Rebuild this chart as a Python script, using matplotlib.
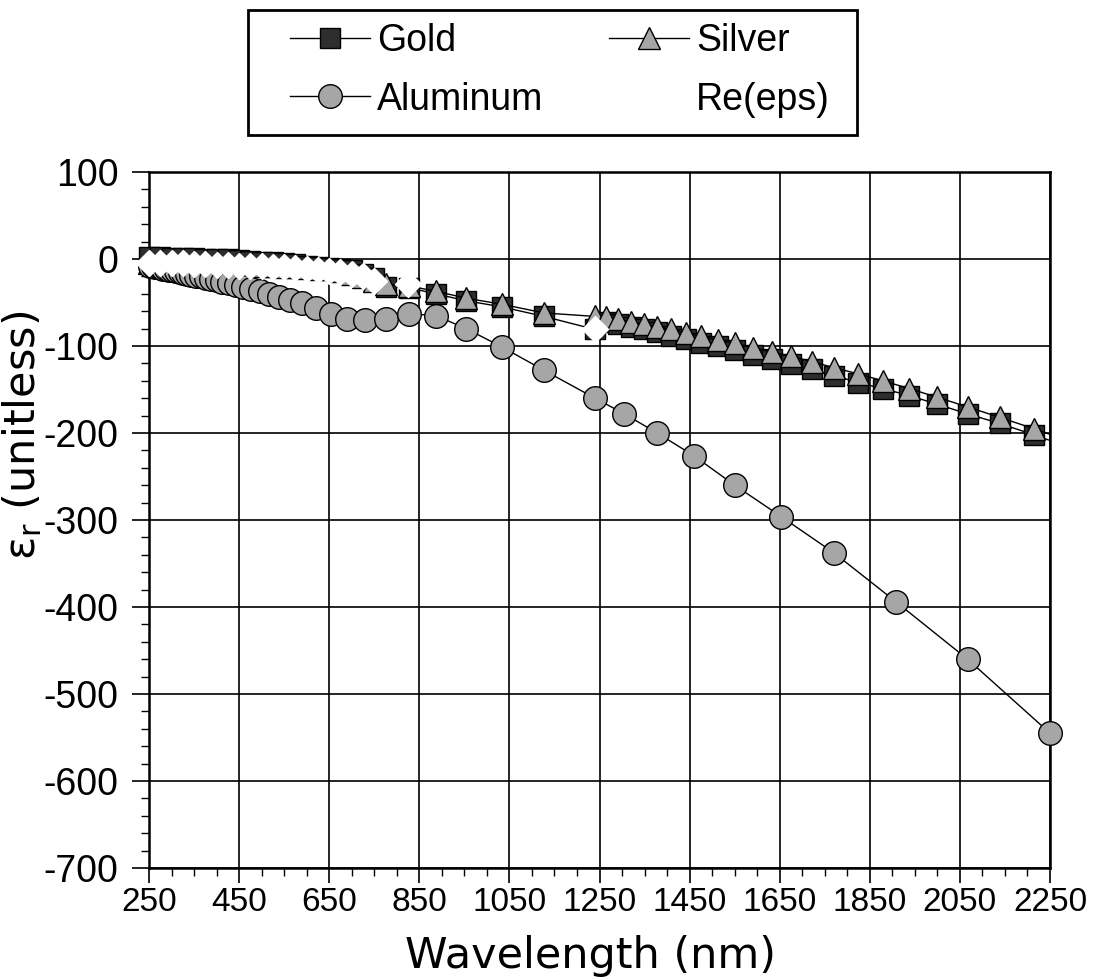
import numpy as np
import matplotlib
matplotlib.use("Agg")
import matplotlib.pyplot as plt
from matplotlib.lines import Line2D
from matplotlib.patches import Rectangle

plt.rcParams['font.family'] = ['Liberation Sans', 'DejaVu Sans']
plt.rcParams['axes.unicode_minus'] = False
plt.rcParams['mathtext.fontset'] = 'dejavusans'

# wavelength (nm) and Re(eps)
gold_wl = [250, 275, 300, 325, 350, 375, 400, 425, 450, 475, 500, 525, 550, 575, 600, 625, 650, 675, 700, 725, 750,
           775, 827, 886, 954, 1033, 1127, 1240,
           1265, 1292, 1319, 1348, 1378, 1409, 1442, 1476, 1512, 1550, 1590, 1632, 1676, 1722, 1771, 1824, 1879,
           1938, 2000, 2067, 2138, 2214, 2296]
gold_eps = [2, 2, 1.5, 1.5, 1, 0.5, 0, -0.5, -1, -2, -3, -4, -5, -6, -7.5, -9, -10, -11.5, -13, -17, -22,
            -32, -33, -40, -48, -55, -66, -81,
            -72, -75, -78, -81, -84, -88, -92, -96, -100, -105, -110, -115, -121, -127, -134, -142, -149,
            -157, -167, -178, -189, -202, -217]

silver_wl = gold_wl
silver_eps = [-5, -5, -5.5, -5.5, -6, -6, -6.5, -7, -7, -7.5, -8, -8.5, -9, -9.5, -10, -11, -12, -14, -17, -21, -25,
              -29, -31, -37, -45, -52, -62, -66,
              -67, -69, -72, -75, -78, -81, -85, -89, -93, -97, -102, -107, -112, -118, -125, -132, -140,
              -149, -159, -170, -182, -195, -210]

al_wl = [253, 258, 264, 270, 276, 282, 288, 295, 302, 310, 318, 326, 335, 344, 354, 365, 376, 388, 400, 413,
         428, 443, 459, 477, 496, 517, 539, 564, 590, 620, 653, 689, 729, 775, 827, 886, 954, 1033, 1127, 1240,
         1305, 1378, 1459, 1550, 1653, 1771, 1908, 2067, 2250]
al_eps = [-8, -8.5, -9, -9.5, -10, -11, -11.5, -12.5, -13, -14, -15, -16, -17, -18, -19, -20, -21.5, -23, -24.5, -26,
          -28, -30, -32, -34.5, -37, -40, -43.5, -47, -51, -56, -63, -69, -70, -69, -63, -65, -80, -101, -128, -160,
          -178, -200, -226, -260, -296, -338, -394, -460, -545]

re_wl = [250, 275, 300, 325, 350, 375, 400, 425, 450, 475, 500, 525, 550, 575, 600, 625, 650, 675, 700, 725, 750,
         825, 1240]
re_eps = [-4.5, -4.5, -5, -5, -5.5, -6, -6.5, -7, -7.5, -8, -8.5, -9, -9.5, -10.5, -11.5, -12.5, -13.5, -15, -17, -20, -25,
          -29, -80]

xticks = list(range(250, 2251, 200))
yticks = list(range(-700, 101, 100))

fig = plt.figure(figsize=(10.94, 9.8), dpi=100)
ax = fig.add_axes([149/1094, 1-868/980, 901/1094, 696/980])

gray = '#a6a6a6'
styles = [
    (gold_wl, gold_eps, dict(marker='s', ms=14.5, mfc='#2e2e2e', mec='k', mew=1), 3),
    (silver_wl, silver_eps, dict(marker='^', ms=16, mfc=gray, mec='k', mew=1), 4),
    (al_wl, al_eps, dict(marker='o', ms=17, mfc=gray, mec='k', mew=1), 5),
]
for wl, eps, mk, z in styles:
    wl = np.array(wl)
    eps = np.array(eps)
    ax.plot(wl, eps, color='k', lw=1, zorder=z)
    inside = wl <= 2250
    ax.plot(wl[inside], eps[inside], ls='none', clip_on=False, zorder=z, **mk)

ax.plot(re_wl, re_eps, ls='none', marker='D', ms=13, mfc='white', mec='white', clip_on=False, zorder=6)

ax.set_xlim(250, 2250)
ax.set_ylim(-700, 100)
ax.set_xticks(xticks)
ax.set_yticks(yticks)
ax.set_xticks(np.arange(250, 2251, 50), minor=True)
ax.set_yticks(np.arange(-700, 101, 20), minor=True)
ax.grid(True, which='major', color='k', lw=1.2)
ax.set_axisbelow(True)
for s in ax.spines.values():
    s.set_linewidth(1.8)

ax.tick_params(axis='x', which='major', direction='out', length=11, width=1.2, labelsize=24, pad=3)
ax.tick_params(axis='x', which='minor', direction='out', length=6, width=1)
ax.tick_params(axis='y', which='major', direction='out', length=12, width=1.2, labelsize=27, pad=10)
ax.tick_params(axis='y', which='minor', direction='out', length=6, width=1)

ax.set_xlabel('Wavelength (nm)', fontsize=31, family='DejaVu Sans')
ax.xaxis.set_label_coords(0.49, -0.096)
ax.set_ylabel('ε$_\\mathregular{r}$ (unitless)', fontsize=31, family='DejaVu Sans')
ax.yaxis.set_label_coords(-0.116, 0.622)

# legend box drawn by hand, entries placed inside
fig.patches.append(Rectangle((248/1094, 1-135/980), 609/1094, 125/980, transform=fig.transFigure,
                             fill=False, lw=2, ec='k'))
h_gold = Line2D([], [], color='k', lw=1, marker='s', ms=14.5, mfc='#2e2e2e', mec='k')
h_silver = Line2D([], [], color='k', lw=1, marker='^', ms=16, mfc=gray, mec='k')
h_al = Line2D([], [], color='k', lw=1, marker='o', ms=17, mfc=gray, mec='k')
h_re = Line2D([], [], color='white', lw=1, marker='D', ms=12, mfc='white', mec='white')
fig.legend([h_gold, h_al, h_silver, h_re], ['Gold', 'Aluminum', 'Silver', 'Re(eps)'],
           loc='upper left', bbox_to_anchor=(290/1094, 1-23/980), ncol=2, frameon=False,
           borderpad=0, borderaxespad=0, handlelength=2.13, handletextpad=0.2,
           columnspacing=1.73, labelspacing=0.6, fontsize=27)

plt.savefig('out.png', dpi=100)
